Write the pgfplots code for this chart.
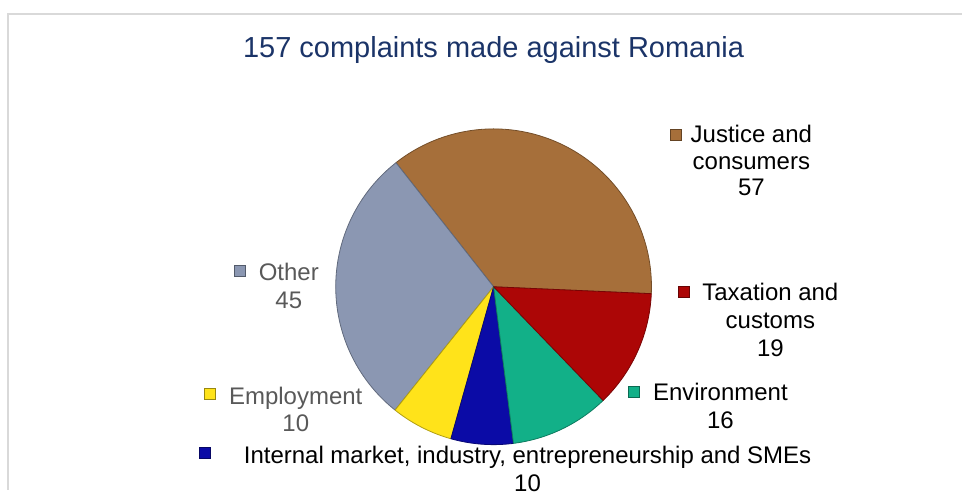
\documentclass[border=0pt]{standalone}
\usepackage{fontspec}
\setmainfont{Liberation Sans}
\usepackage{pgfplots}
\pgfplotsset{compat=1.18}
\usepackage{pgfplotstable}

\definecolor{cJustice}{HTML}{A66F3A}
\definecolor{cOther}{HTML}{8B97B2}
\definecolor{cEmploy}{HTML}{FFE31A}
\definecolor{cInternal}{HTML}{0B0BA6}
\definecolor{cEnv}{HTML}{12B088}
\definecolor{cTax}{HTML}{AC0606}
\definecolor{cTitle}{HTML}{1B3468}
\definecolor{cGrey}{HTML}{595959}
\definecolor{cFrame}{HTML}{D9D9D9}

% complaints per area (total 157)
\def\Total{157}

\newcommand{\pieslice}[2]{%
  \pgfmathsetmacro{\pend}{\pstart+#1/\Total*360}%
  \edef\doslice{\noexpand\addplot[fill=#2, draw=#2!70!black, line width=0.8pt, line join=round,
     domain=\pstart:\pend, samples=90]
     ({494+158*cos(x)},{203+158*sin(x)}) -- (axis cs:494,203) -- cycle;}%
  \doslice
  \global\let\pstart\pend
}

\begin{document}
\begin{tikzpicture}
\begin{axis}[
  scale only axis, width=963pt, height=490pt,
  xmin=0, xmax=963, ymin=0, ymax=490,
  hide axis, clip=false,
]
\addplot[draw=none] coordinates {(0,0) (963,490)};
% frame
\addplot[cFrame, line width=1.6pt, no marks] coordinates {(8,0) (8,476) (963,476)};

\gdef\pstart{-2.5}
\pieslice{57}{cJustice}
\pieslice{45}{cOther}
\pieslice{10}{cEmploy}
\pieslice{10}{cInternal}
\pieslice{16}{cEnv}
\pieslice{19}{cTax}

% legend markers
\addplot[only marks, mark=square*, mark size=5.5pt, mark options={fill=cJustice, draw=cJustice!60!black}] coordinates {(676,355)};
\addplot[only marks, mark=square*, mark size=5.5pt, mark options={fill=cTax, draw=cTax!60!black}] coordinates {(684,198)};
\addplot[only marks, mark=square*, mark size=5.5pt, mark options={fill=cEnv, draw=cEnv!60!black}] coordinates {(634,98)};
\addplot[only marks, mark=square*, mark size=5.5pt, mark options={fill=cInternal, draw=cInternal!60!black}] coordinates {(205,37)};
\addplot[only marks, mark=square*, mark size=5.5pt, mark options={fill=cEmploy, draw=cEmploy!60!black}] coordinates {(210,96)};
\addplot[only marks, mark=square*, mark size=5.5pt, mark options={fill=cOther, draw=cOther!60!black}] coordinates {(240,219)};

% title
\node[font=\fontsize{29}{34}\selectfont, text=cTitle] at (axis cs:494,440) {157 complaints made against Romania};

% labels
\node[font=\fontsize{24}{26.5}\selectfont, align=center, text=black] at (axis cs:752,329) {Justice and\\consumers\\57};
\node[font=\fontsize{24}{28}\selectfont, align=center, text=black] at (axis cs:771,170) {Taxation and\\customs\\19};
\node[font=\fontsize{24}{28}\selectfont, align=center, text=black] at (axis cs:721,84) {Environment\\16};
\node[font=\fontsize{24}{28}\selectfont, align=center, text=black] at (axis cs:528,21) {Internal market, industry, entrepreneurship and SMEs\\10};
\node[font=\fontsize{24}{27}\selectfont, align=center, text=cGrey] at (axis cs:296,80.5) {Employment\\10};
\node[font=\fontsize{24}{28}\selectfont, align=center, text=cGrey] at (axis cs:289,204) {Other\\45};
\end{axis}
\end{tikzpicture}
\end{document}
